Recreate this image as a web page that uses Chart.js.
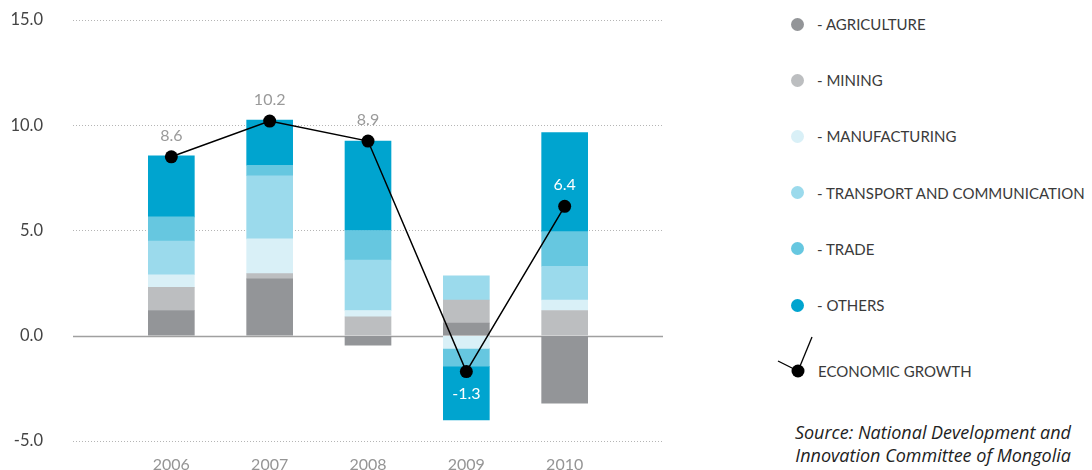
<!DOCTYPE html>
<html lang="en">
<head>
<meta charset="UTF-8">
<title>Contribution to economic growth by sector</title>
<script src="https://cdn.jsdelivr.net/npm/chart.js"></script>
<style>
  body { margin: 0; width: 1092px; height: 470px; position: relative; overflow: hidden; background: #fff; font-family: Lato, sans-serif; }
  #wrap { position: absolute; left: 0; top: 0; width: 680px; height: 470px; }
  .item { position: absolute; left: 791px; height: 20px; display: flex; align-items: center; font-size: 15px; color: #3a3a3a; white-space: nowrap; }
  .dot { width: 13px; height: 13px; border-radius: 50%; margin-right: 13px; }
  #source { position: absolute; right: 21px; top: 421px; text-align: right; font-family: "Open Sans", sans-serif; font-size: 18px; font-style: italic; color: #222; line-height: 23px; }
</style>
</head>
<body>
<div id="wrap"><canvas id="myChart"></canvas></div>
<div id="legend"></div>
<div id="source">Source: National Development and<br>Innovation Committee of Mongolia</div>

<script>
  // data (percentage points)
  const years = ['2006', '2007', '2008', '2009', '2010'];
  const sectors = ['AGRICULTURE', 'MINING', 'MANUFACTURING', 'TRANSPORT AND COMMUNICATION', 'TRADE', 'OTHERS'];
  const agriculture = [1.2, 2.7, -0.45, 0.6, -3.2];
  const mining = [1.1, 0.25, 0.9, 1.1, 1.2];
  const manufacturing = [0.6, 1.65, 0.3, -0.6, 0.5];
  const transport = [1.6, 3.0, 2.4, 1.15, 1.6];
  const trade = [1.15, 0.5, 1.4, -0.85, 1.65];
  const others = [2.9, 2.15, 4.25, -2.55, 4.7];
  const growth = [8.5, 10.2, 9.25, -1.7, 6.15];
  const growthLabels = ['8.6', '10.2', '8.9', '-1.3', '6.4'];

  const colors = ['#939598', '#bcbec0', '#d9f0f7', '#9bdaec', '#66c7e0', '#00a4cf'];
  const labelColors = ['#9a9a9a', '#9a9a9a', '#9a9a9a', '#ffffff', '#ffffff'];

  // empty category on each side gives the padding left/right of the bars
  const labels = ['', ...years, ''];
  const pad = a => [null, ...a, null];

  const sectorData = [agriculture, mining, manufacturing, transport, trade, others];

  // legend
  const legend = document.getElementById('legend');
  sectors.forEach((s, i) => {
    const el = document.createElement('div');
    el.className = 'item';
    el.style.top = (14 + i * 56.2) + 'px';
    el.innerHTML = '<span class="dot" style="background:' + colors[i] + '"></span>- ' + s;
    legend.appendChild(el);
  });
  const g = document.createElement('div');
  g.className = 'item';
  g.style.left = '776px';
  g.style.top = '336px';
  g.style.height = '44px';
  g.innerHTML = '<svg width="42" height="44"><line x1="2" y1="25" x2="22" y2="35" stroke="#000" stroke-width="1.3"/><line x1="22" y1="35" x2="36" y2="1" stroke="#000" stroke-width="1.3"/><circle cx="22" cy="35" r="6.5" fill="#000"/></svg><span style="margin-top:26px">ECONOMIC GROWTH</span>';
  legend.appendChild(g);

  const extras = {
    id: 'extras',
    beforeDatasetsDraw(chart) {
      const { ctx, chartArea, scales } = chart;
      const yz = Math.round(scales.y.getPixelForValue(0)) + 0.5;
      ctx.save();
      ctx.strokeStyle = '#a0a0a0';
      ctx.lineWidth = 1.5;
      ctx.beginPath();
      ctx.moveTo(chartArea.left, yz);
      ctx.lineTo(chartArea.right, yz);
      ctx.stroke();
      ctx.restore();
    },
    afterDatasetsDraw(chart) {
      const { ctx } = chart;
      const meta = chart.getDatasetMeta(0);
      ctx.save();
      ctx.font = '16px Lato';
      ctx.textAlign = 'center';
      ctx.textBaseline = 'middle';
      years.forEach((y, i) => {
        const pt = meta.data[i + 1];
        ctx.fillStyle = labelColors[i];
        const dy = growth[i] < 0 ? 22 : -21;
        ctx.fillText(growthLabels[i], pt.x, pt.y + dy);
      });
      ctx.restore();
    }
  };

  const datasets = [{
    type: 'line',
    label: 'ECONOMIC GROWTH',
    data: pad(growth),
    stack: 'growth',
    borderColor: '#000',
    borderWidth: 1.5,
    pointRadius: 6.5,
    pointHoverRadius: 6.5,
    pointBackgroundColor: '#000',
    pointBorderWidth: 0,
    tension: 0
  }];
  sectors.forEach((s, i) => {
    datasets.push({
      type: 'bar',
      label: s,
      data: pad(sectorData[i]),
      stack: 'sectors',
      backgroundColor: colors[i],
      borderWidth: 0,
      barThickness: 46
    });
  });

  new Chart(document.getElementById('myChart'), {
    data: { labels: labels, datasets: datasets },
    plugins: [extras],
    options: {
      responsive: true,
      maintainAspectRatio: false,
      animation: false,
      layout: { padding: { top: 20, right: 17, bottom: 0, left: 3 } },
      plugins: { legend: { display: false }, tooltip: { enabled: false } },
      scales: {
        x: {
          stacked: true,
          offset: false,
          grid: { display: false },
          border: { display: false },
          ticks: { color: '#959595', font: { family: 'Lato', size: 16 }, padding: 6, maxRotation: 0, autoSkip: false },
          afterFit: s => { s.height = 29; s.paddingLeft = 0; s.paddingRight = 0; }
        },
        y: {
          stacked: true,
          min: -5,
          max: 15,
          grid: {
            drawTicks: false,
            color: c => (c.tick && c.tick.value === 0) ? 'rgba(0,0,0,0)' : '#b5b5b5',
            lineWidth: 1
          },
          border: { display: false, dash: [1, 2] },
          ticks: {
            stepSize: 5,
            padding: 30,
            color: '#444',
            font: { family: 'Lato', size: 16.5 },
            callback: v => v.toFixed(1)
          },
          afterFit: s => { s.width = 70; s.paddingTop = 0; s.paddingBottom = 0; }
        }
      }
    }
  });
</script>
</body>
</html>
